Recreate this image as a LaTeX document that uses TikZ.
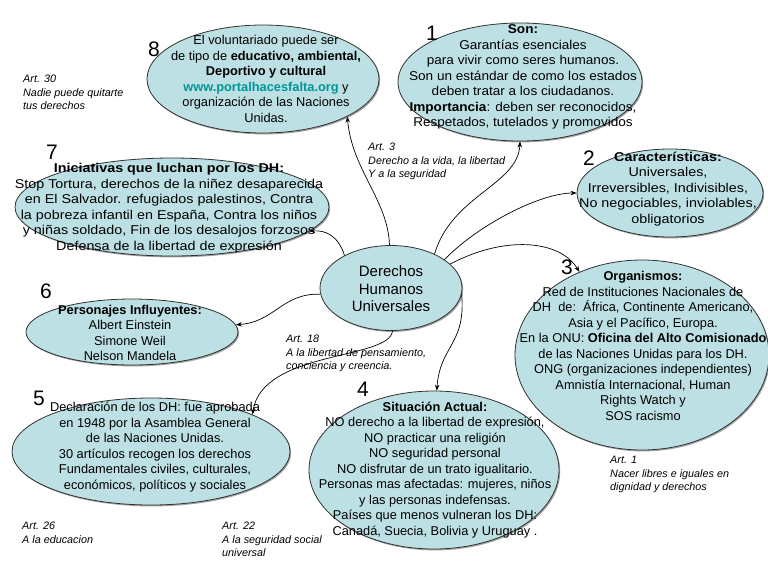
\documentclass[tikz,border=0pt]{standalone}
\usepackage{fontspec}
\setmainfont{Liberation Sans}
\newfontfamily\wideA[FakeStretch=1.06]{Liberation Sans}
\newfontfamily\wideB[FakeStretch=1.12]{Liberation Sans}
\usetikzlibrary{arrows.meta,shapes.geometric,shadows}
\definecolor{ellfill}{RGB}{189,224,228}
\definecolor{urlcol}{RGB}{0,150,150}
\definecolor{edgecol}{RGB}{50,50,50}
\begin{document}
\begin{tikzpicture}[x=1pt,y=-1pt,
  ell/.style={ellipse, draw=edgecol, line width=0.8pt, fill=ellfill, inner sep=0pt,
    drop shadow={shadow xshift=1.2pt, shadow yshift=-1.4pt, fill=black!60, opacity=0.6}},
  body/.style={align=center, font=\fontsize{12.8}{15.5}\selectfont, inner sep=0pt},
  num/.style={font=\fontsize{21}{21}\selectfont, inner sep=0pt},
  art/.style={align=left, anchor=north west, font=\fontsize{10.8}{13.5}\selectfont\itshape, inner sep=0pt},
  conn/.style={draw=black, line width=0.7pt, -{Stealth[length=6pt,width=4.5pt]}}
]
\useasboundingbox[fill=white] (0,0) rectangle (768,576);

% ellipses
\node[ell, minimum width=232pt, minimum height=108pt] (e8) at (263,79) {};
\node[ell, minimum width=244pt, minimum height=118pt] (e1) at (520,82) {};
\node[ell, minimum width=314pt, minimum height=98pt] (e7) at (172,207) {};
\node[ell, minimum width=186pt, minimum height=88pt] (e2) at (670,193) {};
\node[ell, minimum width=142pt, minimum height=85pt] (c) at (391,288) {};
\node[ell, minimum width=254pt, minimum height=190pt] (e3) at (642,355) {};
\node[ell, minimum width=212pt, minimum height=66pt] (e6) at (132,332) {};
\node[ell, minimum width=278pt, minimum height=107pt] (e5) at (151,451.5) {};
\node[ell, minimum width=250pt, minimum height=158pt] (e4) at (434,470) {};

% texts
\node[body] (t8) at (266,79) {El voluntariado puede ser\\de tipo de \textbf{educativo, ambiental,}\\\textbf{Deportivo y cultural}\\\textbf{\textcolor{urlcol}{www.portalhacesfalta.org}} y\\organización de las Naciones\\Unidas.};
\node[body, font=\fontsize{12.8}{15.5}\selectfont\wideA] (t1) at (523,77) {\textbf{Son:}\\Garantías esenciales\\para vivir como seres humanos.\\Son un estándar de como los estados\\deben tratar a los ciudadanos.\\\textbf{Importancia}: deben ser reconocidos,\\Respetados, tutelados y promovidos};
\node[body, font=\fontsize{12.8}{15.5}\selectfont\wideB] (t7) at (169,208) {\textbf{Iniciativas que luchan por los DH:}\\Stop Tortura, derechos de la niñez desaparecida\\en El Salvador. refugiados palestinos, Contra\\la pobreza infantil en España, Contra los niños\\y niñas soldado, Fin de los desalojos forzosos\\Defensa de la libertad de expresión};
\node[body, font=\fontsize{12.8}{15.5}\selectfont\wideB] (t2) at (668,189) {\textbf{Características:}\\Universales,\\Irreversibles, Indivisibles,\\No negociables, inviolables,\\obligatorios};
\node[body, font=\fontsize{15}{17.5}\selectfont] (tc) at (391,289) {Derechos\\Humanos\\Universales};
\node[body] (t3) at (643,346) {\textbf{Organismos:}\\Red de Instituciones Nacionales de\\DH\ \ de:\ \ África, Continente Americano,\\Asia y el Pacífico, Europa.\\En la ONU: \textbf{Oficina del Alto Comisionado}\\de las Naciones Unidas para los DH.\\ONG (organizaciones independientes)\\Amnistía Internacional, Human\\Rights Watch y\\SOS racismo};
\node[body] (t6) at (130,333) {\textbf{Personajes Influyentes:}\\Albert Einstein\\Simone Weil\\Nelson Mandela};
\node[body] (t5) at (155,447) {Declaración de los DH: fue aprobada\\en 1948 por la Asamblea General\\de las Naciones Unidas.\\30 artículos recogen los derechos\\Fundamentales civiles, culturales,\\económicos, políticos y sociales};
\node[body] (t4) at (435,470) {\textbf{Situación Actual:}\\NO derecho a la libertad de expresión,\\NO practicar una religión\\NO seguridad personal\\NO disfrutar de un trato igualitario.\\Personas mas afectadas: mujeres, niños\\y las personas indefensas.\\Países que menos vulneran los DH:\\Canadá, Suecia, Bolivia y Uruguay .};

% numbers
\node[num] (n8) at (154,49) {8};
\node[num] (n1) at (432,33) {1};
\node[num] (n7) at (52,152) {7};
\node[num] (n2) at (589,158) {2};
\node[num] (n3) at (567,267) {3};
\node[num] (n6) at (46,291) {6};
\node[num] (n5) at (39,398) {5};
\node[num] (n4) at (363,389) {4};

% article notes
\node[art] (a30) at (23,75) {Art. 30\\Nadie puede quitarte\\tus derechos};
\node[art] (a3) at (368,143) {Art. 3\\Derecho a la vida, la libertad\\Y a la seguridad};
\node[art] (a18) at (286,335) {Art. 18\\A la libertad de pensamiento,\\conciencia y creencia.};
\node[art] (a26) at (22,522) {Art. 26\\A la educacion};
\node[art] (a22) at (222,522) {Art. 22\\A la seguridad social\\universal};
\node[art] (a1) at (610,456) {Art. 1\\Nacer libres e iguales en\\dignidad y derechos};

% connectors
\draw[conn] (c.92) .. controls (388,200) and (352,170) .. (e8.-24);
\draw[conn] (c.38) .. controls (452,195) and (518,185) .. (e1.-90);
\draw[conn] (c.28) .. controls (478,225) and (540,193) .. (e2.180);
\draw[conn] (c.22) .. controls (505,235) and (560,240) .. (e3.127);
\draw[conn] (c.-5) .. controls (466,345) and (440,345) .. (e4.88);
\draw[conn] (c.-88) .. controls (390,360) and (262,350) .. (e5.20);
\draw[conn] (c.185) .. controls (282,293) and (275,322) .. (e6.4);
\draw[conn] (c.145) .. controls (338,235) and (325,230) .. (e7.-10);
\end{tikzpicture}
\end{document}
